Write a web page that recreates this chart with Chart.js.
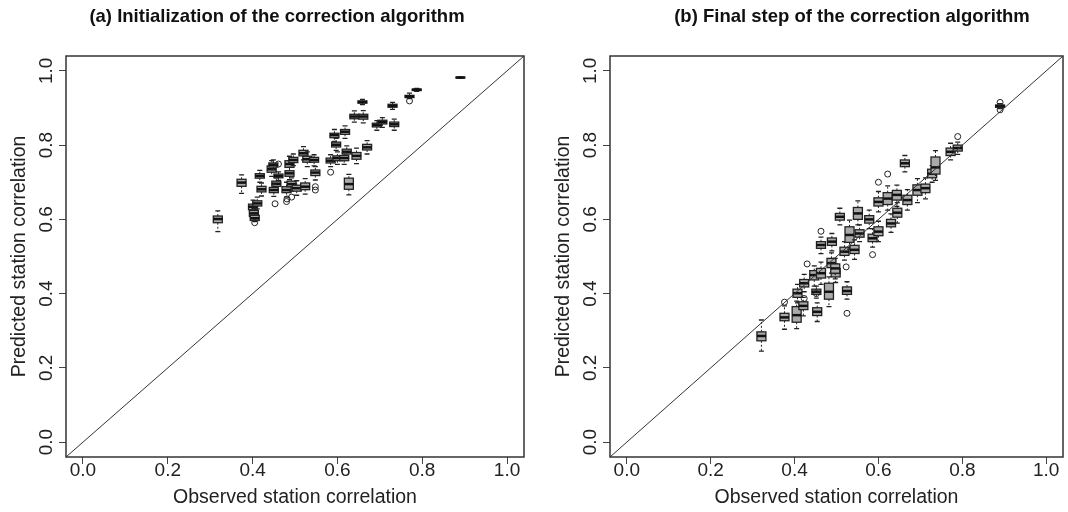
<!DOCTYPE html>
<html>
<head>
<meta charset="utf-8">
<script src="https://cdn.jsdelivr.net/npm/chart.js@4.4.0/dist/chart.umd.min.js"></script>
<style>
  body { margin: 0; background: #fff; }
  canvas { position: absolute; top: 0; }
  #chartA { left: 0; }
  #chartB { left: 534px; }
</style>
</head>
<body>
<canvas id="chartA" width="534" height="512"></canvas>
<canvas id="chartB" width="534" height="512"></canvas>
<script>
// tick values shared by both axes
const tickValues = [0, 0.2, 0.4, 0.6, 0.8, 1.0];
const diagX = [-0.04, 1.04];

// (a) initialization: one box per station
const obsA = [0.318, 0.374, 0.401, 0.403, 0.405, 0.411, 0.417, 0.421, 0.445, 0.449, 0.461, 0.456, 0.450, 0.480, 0.487, 0.487, 0.496, 0.492, 0.504, 0.520, 0.524, 0.529, 0.545, 0.548, 0.584, 0.593, 0.597, 0.600, 0.618, 0.622, 0.616, 0.627, 0.645, 0.640, 0.661, 0.659, 0.670, 0.693, 0.706, 0.730, 0.734, 0.770, 0.787, 0.890];
const medA = [0.601, 0.699, 0.634, 0.616, 0.603, 0.643, 0.717, 0.681, 0.735, 0.747, 0.717, 0.696, 0.679, 0.679, 0.749, 0.724, 0.760, 0.695, 0.684, 0.778, 0.688, 0.762, 0.760, 0.726, 0.758, 0.827, 0.801, 0.765, 0.836, 0.782, 0.765, 0.695, 0.771, 0.877, 0.877, 0.916, 0.794, 0.854, 0.862, 0.906, 0.856, 0.931, 0.949, 0.982];
const q1A  = [0.591, 0.689, 0.626, 0.608, 0.597, 0.636, 0.711, 0.674, 0.727, 0.741, 0.712, 0.689, 0.672, 0.672, 0.740, 0.716, 0.753, 0.688, 0.676, 0.771, 0.680, 0.754, 0.754, 0.718, 0.752, 0.820, 0.795, 0.758, 0.829, 0.776, 0.758, 0.681, 0.762, 0.871, 0.870, 0.913, 0.787, 0.849, 0.857, 0.902, 0.850, 0.928, 0.947, 0.981];
const q3A  = [0.609, 0.708, 0.641, 0.624, 0.611, 0.650, 0.723, 0.689, 0.744, 0.752, 0.722, 0.703, 0.686, 0.688, 0.758, 0.731, 0.767, 0.703, 0.692, 0.786, 0.698, 0.770, 0.767, 0.733, 0.765, 0.832, 0.808, 0.771, 0.842, 0.789, 0.772, 0.711, 0.780, 0.883, 0.883, 0.919, 0.802, 0.859, 0.867, 0.910, 0.862, 0.934, 0.951, 0.983];
const loA  = [0.567, 0.670, 0.612, 0.598, 0.594, 0.628, 0.700, 0.663, 0.716, 0.734, 0.705, 0.678, 0.662, 0.660, 0.728, 0.707, 0.745, 0.676, 0.665, 0.760, 0.668, 0.742, 0.744, 0.706, 0.742, 0.810, 0.786, 0.748, 0.818, 0.765, 0.748, 0.666, 0.750, 0.862, 0.860, 0.909, 0.776, 0.840, 0.848, 0.896, 0.840, 0.925, 0.945, 0.980];
const hiA  = [0.623, 0.720, 0.652, 0.630, 0.618, 0.660, 0.732, 0.698, 0.758, 0.760, 0.728, 0.712, 0.694, 0.700, 0.770, 0.740, 0.776, 0.712, 0.704, 0.796, 0.710, 0.782, 0.774, 0.742, 0.774, 0.842, 0.818, 0.782, 0.852, 0.798, 0.780, 0.721, 0.792, 0.892, 0.893, 0.923, 0.812, 0.866, 0.874, 0.915, 0.870, 0.940, 0.953, 0.984];
const outXA = [0.405, 0.461, 0.453, 0.480, 0.481, 0.492, 0.548, 0.548, 0.584, 0.770];
const outYA = [0.591, 0.749, 0.642, 0.648, 0.655, 0.660, 0.688, 0.679, 0.727, 0.919];

// (b) final step
const obsB = [0.321, 0.376, 0.405, 0.407, 0.421, 0.423, 0.454, 0.452, 0.447, 0.482, 0.463, 0.498, 0.525, 0.488, 0.497, 0.463, 0.489, 0.519, 0.531, 0.543, 0.508, 0.551, 0.555, 0.586, 0.600, 0.578, 0.630, 0.622, 0.600, 0.644, 0.645, 0.669, 0.693, 0.712, 0.663, 0.728, 0.736, 0.772, 0.789, 0.890];
const medB = [0.286, 0.336, 0.342, 0.401, 0.367, 0.428, 0.351, 0.405, 0.450, 0.405, 0.455, 0.456, 0.407, 0.482, 0.468, 0.531, 0.540, 0.513, 0.558, 0.518, 0.607, 0.616, 0.562, 0.549, 0.567, 0.600, 0.589, 0.656, 0.647, 0.666, 0.618, 0.652, 0.679, 0.684, 0.751, 0.723, 0.740, 0.782, 0.792, 0.905];
const q1B  = [0.273, 0.327, 0.323, 0.390, 0.357, 0.418, 0.341, 0.398, 0.437, 0.385, 0.442, 0.445, 0.398, 0.470, 0.455, 0.522, 0.530, 0.503, 0.538, 0.508, 0.598, 0.600, 0.552, 0.540, 0.556, 0.590, 0.580, 0.640, 0.636, 0.652, 0.606, 0.640, 0.665, 0.672, 0.742, 0.712, 0.722, 0.772, 0.784, 0.902];
const q3B  = [0.297, 0.347, 0.365, 0.412, 0.378, 0.438, 0.362, 0.412, 0.462, 0.428, 0.468, 0.468, 0.418, 0.495, 0.480, 0.540, 0.550, 0.525, 0.580, 0.530, 0.616, 0.632, 0.572, 0.560, 0.580, 0.610, 0.600, 0.672, 0.658, 0.678, 0.630, 0.665, 0.693, 0.695, 0.760, 0.735, 0.768, 0.792, 0.800, 0.908];
const loB  = [0.245, 0.304, 0.306, 0.375, 0.340, 0.405, 0.325, 0.388, 0.420, 0.365, 0.425, 0.430, 0.385, 0.455, 0.440, 0.508, 0.515, 0.490, 0.520, 0.492, 0.585, 0.585, 0.540, 0.525, 0.540, 0.575, 0.565, 0.625, 0.620, 0.635, 0.590, 0.625, 0.645, 0.655, 0.728, 0.700, 0.705, 0.760, 0.775, 0.898];
const hiB  = [0.329, 0.367, 0.380, 0.425, 0.390, 0.452, 0.375, 0.420, 0.475, 0.445, 0.485, 0.480, 0.432, 0.510, 0.495, 0.552, 0.562, 0.540, 0.598, 0.545, 0.630, 0.650, 0.585, 0.575, 0.595, 0.625, 0.615, 0.690, 0.675, 0.692, 0.645, 0.680, 0.710, 0.712, 0.772, 0.745, 0.785, 0.805, 0.808, 0.912];
const outXB = [0.376, 0.423, 0.452, 0.463, 0.430, 0.523, 0.525, 0.586, 0.622, 0.600, 0.789, 0.890, 0.890];
const outYB = [0.377, 0.387, 0.400, 0.568, 0.480, 0.472, 0.347, 0.505, 0.722, 0.700, 0.823, 0.915, 0.895];

const FONT = "'Liberation Sans', Arial, sans-serif";
const INK = '#222';

function boxPlugin(obs, med, q1, q3, lo, hi) {
    return {
        id: 'boxes',
        beforeDatasetsDraw(chart) {
            const { ctx, chartArea } = chart;
            const x = chart.scales.x, y = chart.scales.y;
            const hw = 4.5;
            ctx.save();
            ctx.beginPath();
            ctx.rect(chartArea.left, chartArea.top, chartArea.right - chartArea.left, chartArea.bottom - chartArea.top);
            ctx.clip();
            for (let i = 0; i < obs.length; i++) {
                const px = x.getPixelForValue(obs[i]);
                const yM = y.getPixelForValue(med[i]);
                const y1 = y.getPixelForValue(q1[i]);
                const y3 = y.getPixelForValue(q3[i]);
                const yl = y.getPixelForValue(lo[i]);
                const yh = y.getPixelForValue(hi[i]);
                ctx.strokeStyle = INK;
                ctx.lineWidth = 1;
                // whiskers
                ctx.setLineDash([2, 2]);
                ctx.beginPath();
                ctx.moveTo(px, y3); ctx.lineTo(px, yh);
                ctx.moveTo(px, y1); ctx.lineTo(px, yl);
                ctx.stroke();
                ctx.setLineDash([]);
                ctx.lineWidth = 1.3;
                ctx.beginPath();
                ctx.moveTo(px - 2.5, yh); ctx.lineTo(px + 2.5, yh);
                ctx.moveTo(px - 2.5, yl); ctx.lineTo(px + 2.5, yl);
                ctx.stroke();
                // box
                ctx.fillStyle = '#aaaaaa';
                ctx.fillRect(px - hw, y3, hw * 2, y1 - y3);
                ctx.strokeRect(px - hw, y3, hw * 2, y1 - y3);
                // median
                ctx.lineWidth = 2.5;
                ctx.strokeStyle = '#111';
                ctx.beginPath();
                ctx.moveTo(px - hw, yM); ctx.lineTo(px + hw, yM);
                ctx.stroke();
            }
            ctx.restore();
        }
    };
}

function decoPlugin(title, titleX) {
    return {
        id: 'deco',
        afterDraw(chart) {
            const { ctx, chartArea } = chart;
            const y = chart.scales.y;
            ctx.save();
            // frame
            ctx.strokeStyle = '#333';
            ctx.lineWidth = 1.5;
            ctx.strokeRect(chartArea.left, chartArea.top, chartArea.right - chartArea.left, chartArea.bottom - chartArea.top);
            // title
            ctx.fillStyle = '#111';
            ctx.font = 'bold 18.5px ' + FONT;
            ctx.textAlign = 'center';
            ctx.textBaseline = 'middle';
            ctx.fillText(title, titleX, 17);
            // rotated y tick labels like R
            ctx.font = '19px ' + FONT;
            ctx.fillStyle = INK;
            tickValues.forEach(v => {
                const py = y.getPixelForValue(v);
                ctx.save();
                ctx.translate(chartArea.left - 19, py);
                ctx.rotate(-Math.PI / 2);
                ctx.fillText(v.toFixed(1), 0, 0);
                ctx.restore();
            });
            ctx.restore();
        }
    };
}

function makeChart(id, title, titleX, padLeft, padRight, s) {
    const ctx = document.getElementById(id).getContext('2d');
    return new Chart(ctx, {
        type: 'scatter',
        data: {
            datasets: [
                {
                    type: 'scatter',
                    data: s.outX.map((v, i) => ({ x: v, y: s.outY[i] })),
                    pointStyle: 'circle',
                    pointRadius: 3,
                    borderWidth: 1,
                    borderColor: INK,
                    backgroundColor: 'rgba(0,0,0,0)'
                },
                {
                    type: 'line',
                    data: diagX.map(v => ({ x: v, y: v })),
                    borderColor: '#333',
                    borderWidth: 1,
                    pointRadius: 0,
                    fill: false
                }
            ]
        },
        options: {
            responsive: false,
            animation: false,
            layout: { padding: { left: padLeft, right: padRight, top: 56, bottom: 0 } },
            plugins: { legend: { display: false }, tooltip: { enabled: false } },
            scales: {
                x: {
                    type: 'linear',
                    min: -0.04,
                    max: 1.04,
                    afterBuildTicks: sc => { sc.ticks = tickValues.map(v => ({ value: v })); },
                    afterFit: sc => { sc.height = 55; },
                    grid: { drawOnChartArea: false, drawTicks: true, tickLength: 7, color: '#444' },
                    border: { display: false },
                    ticks: {
                        padding: -5,
                        color: INK,
                        font: { family: FONT, size: 19 },
                        maxRotation: 0,
                        callback: v => v.toFixed(1)
                    },
                    title: {
                        display: true,
                        text: 'Observed station correlation',
                        color: INK,
                        font: { family: FONT, size: 19.5 },
                        padding: { top: 0, bottom: 3 }
                    }
                },
                y: {
                    type: 'linear',
                    min: -0.04,
                    max: 1.04,
                    afterBuildTicks: sc => { sc.ticks = tickValues.map(v => ({ value: v })); },
                    afterFit: sc => { sc.width = 66; },
                    grid: { drawOnChartArea: false, drawTicks: true, tickLength: 7, color: '#444' },
                    border: { display: false },
                    ticks: { color: 'rgba(0,0,0,0)', font: { family: FONT, size: 18 } },
                    title: {
                        display: true,
                        text: 'Predicted station correlation',
                        color: INK,
                        font: { family: FONT, size: 19.5 },
                        padding: { top: 8, bottom: 0 }
                    }
                }
            }
        },
        plugins: [boxPlugin(s.obs, s.med, s.q1, s.q3, s.lo, s.hi), decoPlugin(title, titleX)]
    });
}

makeChart('chartA', '(a) Initialization of the correction algorithm', 277, 0, 10,
    { obs: obsA, med: medA, q1: q1A, q3: q3A, lo: loA, hi: hiA, outX: outXA, outY: outYA });
makeChart('chartB', '(b) Final step of the correction algorithm', 318, 10, 1,
    { obs: obsB, med: medB, q1: q1B, q3: q3B, lo: loB, hi: hiB, outX: outXB, outY: outYB });
</script>
</body>
</html>
